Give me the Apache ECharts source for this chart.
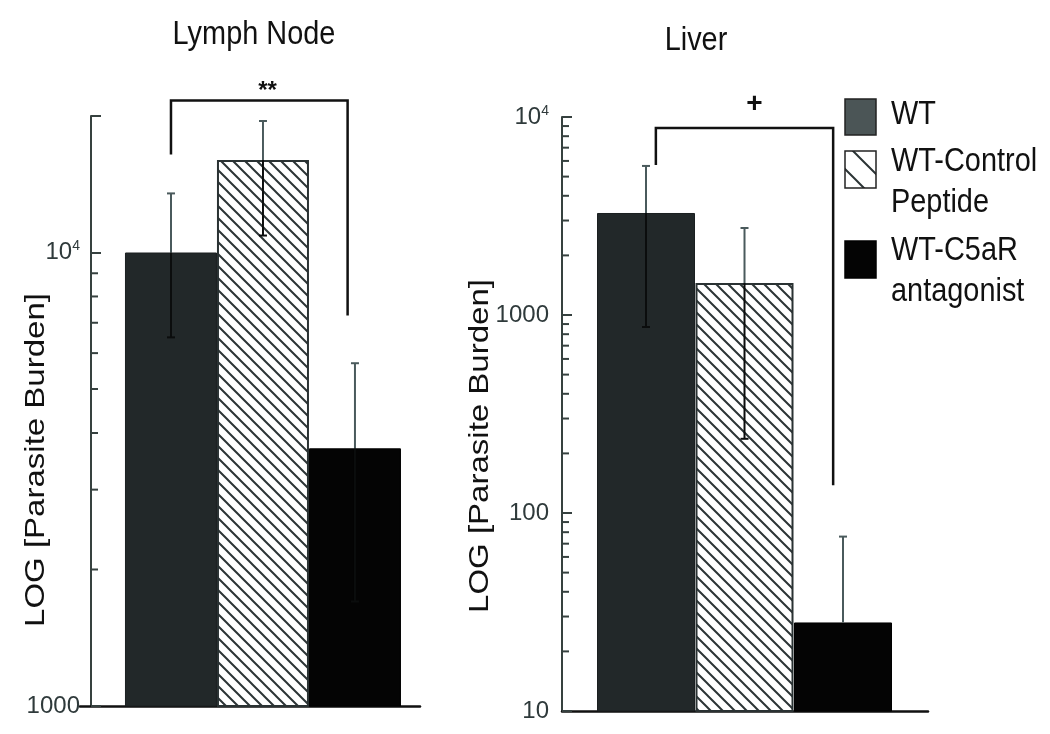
<!DOCTYPE html>
<html>
<head>
<meta charset="utf-8">
<script src="https://cdn.jsdelivr.net/npm/echarts@6/dist/echarts.min.js"></script>
<style>html,body{margin:0;padding:0;background:#fff}#c{width:1050px;height:734px}</style>
</head>
<body>
<div id="c"></div>
<script>
// ---------- data ----------
const groups = ['WT', 'WT-Control\nPeptide', 'WT-C5aR\nantagonist'];
const groupPos = [0, 1, 2];
const panelTitles = ['Lymph Node', 'Liver'];
const yAxisTitle = 'LOG [Parasite Burden]';

const lymphMean = [10000, 16000, 3700];
const lymphLow  = [6500, 10900, 1700];
const lymphHigh = [13500, 19500, 5700];

const liverMean = [3275, 1450, 28];
const liverLow  = [870, 237, null];
const liverHigh = [5660, 2750, 76];

const lymphAxisRange = [1000, 20000];
const liverAxisRange = [10, 10000];
const lymphMinorTicks = [2000, 3000, 4000, 5000, 6000, 7000, 8000, 9000];
const liverMinorTicks = [20, 30, 40, 50, 60, 70, 80, 90, 200, 300, 400, 500, 600, 700, 800, 900, 2000, 3000, 4000, 5000, 6000, 7000, 8000, 9000];

// significance brackets: [leftX, rightX, labelX, topValue, leftEndValue, rightEndValue]
const lymphBracket = [0, 1.92, 1.05, 21650, 16450, 7260];
const lymphSig = '**';
const liverBracket = [0.1, 1.9, 1.1, 8800, 5730, 138];
const liverSig = '+';

// ---------- styles ----------
const font = "'Liberation Sans', Arial, sans-serif";
const axisGray = '#36413f';
const squeeze = 0.85;

function hatchCanvas(step, lw, color) {
  const c = document.createElement('canvas');
  c.width = step; c.height = step;
  const g = c.getContext('2d');
  g.fillStyle = '#fff'; g.fillRect(0, 0, step, step);
  g.strokeStyle = color; g.lineWidth = lw; g.lineCap = 'square';
  g.beginPath();
  g.moveTo(-2, -2); g.lineTo(step + 2, step + 2);
  g.moveTo(-2, step - 2); g.lineTo(2, step + 2);
  g.moveTo(step - 2, -2); g.lineTo(step + 2, 2);
  g.stroke();
  return c;
}
const hatchFill = { image: hatchCanvas(12, 2, '#2c3536'), repeat: 'repeat' };
const hatchLegendFill = { image: hatchCanvas(26, 2, '#2c3536'), repeat: 'repeat' };

const barStyles = [
  { color: '#222829', borderColor: '#1a1f20', borderWidth: 1 },
  { color: hatchFill, borderColor: '#2a3233', borderWidth: 2 },
  { color: '#040404', borderColor: '#000', borderWidth: 1 }
];

// ---------- helpers ----------
function barData(means) {
  return groupPos.map((x, i) => ({ value: [x, means[i]], itemStyle: barStyles[i] }));
}
function errData(means, lows, highs) {
  return groupPos.map((x, i) => [x, lows[i] == null ? means[i] : lows[i], highs[i], lows[i] == null ? 0 : 1, means[i]]);
}
function errRender(params, api) {
  const x = api.value(0), lo = api.value(1), hi = api.value(2), hasLo = api.value(3), m = api.value(4);
  const pHi = api.coord([x, hi]);
  const pLo = api.coord([x, lo]);
  const pM = api.coord([x, m]);
  const up = { stroke: '#4a5a5c', lineWidth: 2 };
  const dn = { stroke: '#0b0d0d', lineWidth: 2 };
  const ch = [
    { type: 'line', shape: { x1: pHi[0], y1: pHi[1], x2: pM[0], y2: pM[1] }, style: up },
    { type: 'line', shape: { x1: pHi[0] - 4, y1: pHi[1], x2: pHi[0] + 4, y2: pHi[1] }, style: up }
  ];
  if (hasLo) {
    ch.push({ type: 'line', shape: { x1: pM[0], y1: pM[1], x2: pLo[0], y2: pLo[1] }, style: dn });
    ch.push({ type: 'line', shape: { x1: pLo[0] - 4, y1: pLo[1], x2: pLo[0] + 4, y2: pLo[1] }, style: dn });
  }
  return { type: 'group', children: ch };
}
function tickRender(inset) {
  return function (params, api) {
    const v = api.value(1);
    const p = api.coord([api.value(0), v]);
    const x0 = params.coordSys.x + inset;
    const len = api.value(2) ? 10 : 7;
    return { type: 'line', shape: { x1: x0, y1: p[1], x2: x0 + len, y2: p[1] }, style: { stroke: axisGray, lineWidth: 2 } };
  };
}
function bracketRender(sig, fontSize, dy) {
  return function (params, api) {
    const a = api.coord([api.value(0), api.value(3)]);
    const b = api.coord([api.value(1), api.value(3)]);
    const l = api.coord([api.value(0), api.value(4)]);
    const r = api.coord([api.value(1), api.value(5)]);
    const t = api.coord([api.value(2), api.value(3)]);
    return {
      type: 'group', children: [
        { type: 'polyline', shape: { points: [[l[0], l[1]], [a[0], a[1]], [b[0], b[1]], [r[0], r[1]]] },
          style: { stroke: '#111', lineWidth: 2.5, fill: null } },
        { type: 'text', x: t[0], y: a[1] - dy,
          style: { text: sig, fill: '#111', font: 'bold ' + fontSize + 'px ' + font, align: 'center', verticalAlign: 'middle' } }
      ]
    };
  };
}
function tickData(list, topVal) {
  const d = list.map(v => [0, v, 0]);
  if (topVal) d.push([0, topVal, 1]);
  return d;
}
function labelFmt(v) {
  const e = Math.round(Math.log10(v));
  if (Math.abs(Math.log10(v) - e) > 1e-6) return '';
  if (e >= 4) return '10{s|' + e + '}';
  return String(Math.round(v));
}

const axisLabelStyle = {
  formatter: labelFmt, color: '#2f3a3b', fontFamily: font, fontSize: 24, margin: 11,
  rich: { s: { fontSize: 14, fontFamily: font, color: '#2f3a3b', padding: [0, 0, 12, 0] } }
};

function textEl(x, y, text, size, align, vAlign, extra) {
  return Object.assign({ type: 'text', x: x, y: y, scaleX: squeeze,
    style: { text: text, font: size + 'px ' + font, fill: '#111', align: align, verticalAlign: vAlign, lineHeight: 41 } }, extra || {});
}

const option = {
  animation: false,
  backgroundColor: '#fff',
  grid: [
    { left: 80, width: 340, top: 116, height: 590 },
    { left: 562, width: 366, top: 117, height: 594 }
  ],
  xAxis: [
    { gridIndex: 0, type: 'value', min: -0.989, max: 2.707,
      axisLine: { show: true, onZero: false, lineStyle: { color: '#111', width: 2.5 } },
      axisTick: { show: false }, axisLabel: { show: false }, splitLine: { show: false } },
    { gridIndex: 1, type: 'value', min: -0.853, max: 2.863,
      axisLine: { show: true, onZero: false, lineStyle: { color: '#111', width: 2.5 } },
      axisTick: { show: false }, axisLabel: { show: false }, splitLine: { show: false } }
  ],
  yAxis: [
    { gridIndex: 0, type: 'log', logBase: 10, min: lymphAxisRange[0], max: lymphAxisRange[1], offset: -11,
      axisLine: { show: true, onZero: false, lineStyle: { color: axisGray, width: 2 } },
      axisTick: { show: true, inside: true, length: 10, lineStyle: { color: axisGray, width: 2 } },
      axisLabel: axisLabelStyle, splitLine: { show: false }, minorTick: { show: false } },
    { gridIndex: 1, type: 'log', logBase: 10, min: liverAxisRange[0], max: liverAxisRange[1],
      axisLine: { show: true, onZero: false, lineStyle: { color: axisGray, width: 2 } },
      axisTick: { show: true, inside: true, length: 10, lineStyle: { color: axisGray, width: 2 } },
      axisLabel: Object.assign({}, axisLabelStyle, { margin: 13 }), splitLine: { show: false }, minorTick: { show: false } }
  ],
  series: [
    { type: 'bar', xAxisIndex: 0, yAxisIndex: 0, barWidth: 92, data: barData(lymphMean), z: 2 },
    { type: 'bar', xAxisIndex: 1, yAxisIndex: 1, barWidth: 98, data: barData(liverMean), z: 2 },
    { type: 'custom', xAxisIndex: 0, yAxisIndex: 0, data: errData(lymphMean, lymphLow, lymphHigh), renderItem: errRender, z: 5, clip: false },
    { type: 'custom', xAxisIndex: 1, yAxisIndex: 1, data: errData(liverMean, liverLow, liverHigh), renderItem: errRender, z: 5, clip: false },
    { type: 'custom', xAxisIndex: 0, yAxisIndex: 0, data: tickData(lymphMinorTicks, lymphAxisRange[1]), renderItem: tickRender(11), z: 6, clip: false, silent: true },
    { type: 'custom', xAxisIndex: 1, yAxisIndex: 1, data: tickData(liverMinorTicks), renderItem: tickRender(0), z: 6, clip: false, silent: true },
    { type: 'custom', xAxisIndex: 0, yAxisIndex: 0, data: [lymphBracket], renderItem: bracketRender(lymphSig, 24, 9), z: 6, clip: false },
    { type: 'custom', xAxisIndex: 1, yAxisIndex: 1, data: [liverBracket], renderItem: bracketRender(liverSig, 28, 24), z: 6, clip: false }
  ],
  graphic: [
    // panel titles
    textEl(254, 35, panelTitles[0], 34, 'center', 'middle'),
    textEl(696, 41, panelTitles[1], 34, 'center', 'middle'),
    // y axis titles
    { type: 'text', x: 36, y: 460, rotation: Math.PI / 2, scaleY: squeeze,
      style: { text: yAxisTitle, font: '33px ' + font, fill: '#111', align: 'center', verticalAlign: 'middle' } },
    { type: 'text', x: 480, y: 446, rotation: Math.PI / 2, scaleY: squeeze,
      style: { text: yAxisTitle, font: '33px ' + font, fill: '#111', align: 'center', verticalAlign: 'middle' } },
    // legend
    { type: 'rect', shape: { x: 845, y: 99, width: 31, height: 36 }, style: { fill: '#4b5556', stroke: '#222', lineWidth: 1.5 } },
    { type: 'rect', shape: { x: 845, y: 151, width: 31, height: 37 }, style: { fill: hatchLegendFill, stroke: '#222', lineWidth: 1.5 } },
    { type: 'rect', shape: { x: 845, y: 241, width: 31, height: 37 }, style: { fill: '#040404', stroke: '#000', lineWidth: 1.5 } },
    textEl(891, 94, groups[0], 34, 'left', 'top'),
    textEl(891, 141, groups[1], 34, 'left', 'top'),
    textEl(891, 230, groups[2], 34, 'left', 'top')
  ]
};

const chart = echarts.init(document.getElementById('c'), null, { renderer: 'canvas' });
chart.setOption(option);
</script>
</body>
</html>
